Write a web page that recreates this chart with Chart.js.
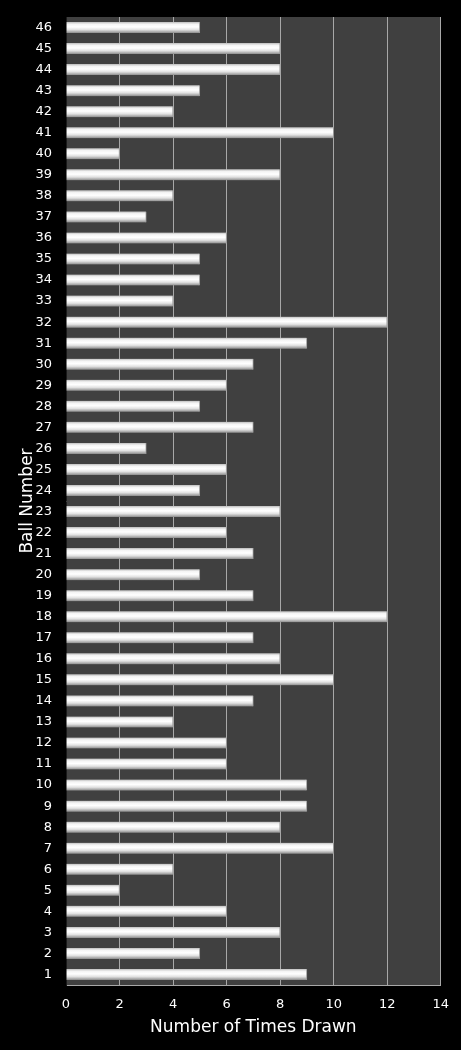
<!DOCTYPE html>
<html lang="en">
<head>
    <meta charset="UTF-8">
    <title>Ball Number Frequency</title>
    <script src="https://cdn.jsdelivr.net/npm/chart.js"></script>
    <style>
        html, body {
            margin: 0;
            padding: 0;
            background-color: #000;
        }
        .wrap {
            width: 461px;
            height: 1050px;
        }
    </style>
</head>
<body>
    <div class="wrap">
        <canvas id="chart" width="461" height="1050"></canvas>
    </div>

    <script>
        // ball numbers, bottom to top
        const balls = ['1','2','3','4','5','6','7','8','9','10','11','12','13','14','15','16','17','18','19','20','21','22','23',
            '24','25','26','27','28','29','30','31','32','33','34','35','36','37','38','39','40','41','42','43','44','45','46'];
        const timesDrawn = [9, 5, 8, 6, 2, 4, 10, 8, 9, 9, 6, 6, 4, 7, 10, 8, 7, 12, 7, 5, 7, 6, 8,
            5, 6, 3, 7, 5, 6, 7, 9, 12, 4, 5, 5, 6, 3, 4, 8, 2, 10, 4, 5, 8, 8, 5];
        const xTicks = [0, 2, 4, 6, 8, 10, 12, 14];

        const BAR_H = 11;

        // dark grey plot area
        const plotBg = {
            id: 'plotBg',
            beforeDraw(chart) {
                const a = chart.chartArea;
                const c = chart.ctx;
                c.save();
                c.fillStyle = '#404040';
                c.fillRect(a.left, a.top, a.right - a.left, a.bottom - a.top);
                c.restore();
            }
        };

        // cylinder-ish shading for each bar
        function barFill(ctx) {
            const chart = ctx.chart;
            const ys = chart.scales && chart.scales.y;
            if (!ys || ctx.type !== 'data') return '#eeeeee';
            const yc = ys.getPixelForValue(ctx.dataIndex);
            if (!isFinite(yc)) return '#eeeeee';
            const g = chart.ctx.createLinearGradient(0, yc - BAR_H / 2, 0, yc + BAR_H / 2);
            g.addColorStop(0, '#bdbdbd');
            g.addColorStop(0.2, '#f4f4f4');
            g.addColorStop(0.45, '#ffffff');
            g.addColorStop(0.7, '#e2e2e2');
            g.addColorStop(1, '#8c8c8c');
            return g;
        }

        new Chart(document.getElementById('chart'), {
            type: 'bar',
            data: {
                labels: balls,
                datasets: [{
                    data: timesDrawn,
                    backgroundColor: barFill,
                    borderColor: '#9a9a9a',
                    borderWidth: { top: 0, bottom: 0, left: 0, right: 1 },
                    borderSkipped: false,
                    barThickness: BAR_H
                }]
            },
            options: {
                indexAxis: 'y',
                responsive: false,
                animation: false,
                layout: {
                    padding: { left: 17, right: 19, top: 17, bottom: 12 }
                },
                plugins: {
                    legend: { display: false },
                    tooltip: { enabled: false }
                },
                scales: {
                    x: {
                        min: 0,
                        max: 14,
                        afterBuildTicks: (axis) => {
                            axis.ticks = xTicks.map(v => ({ value: v }));
                        },
                        afterFit: (axis) => {
                            axis.height = 53;
                        },
                        grid: {
                            color: '#a8a8a8',
                            lineWidth: 1,
                            drawTicks: false
                        },
                        border: { color: '#a8a8a8' },
                        ticks: {
                            color: '#ffffff',
                            padding: 12,
                            font: { family: 'DejaVu Sans', size: 13 }
                        },
                        title: {
                            display: true,
                            text: 'Number of Times Drawn',
                            color: '#ffffff',
                            padding: { top: 4, bottom: 0 },
                            font: { family: 'DejaVu Sans', size: 17 }
                        }
                    },
                    y: {
                        reverse: true,
                        afterFit: (axis) => {
                            axis.width = 49;
                            axis.paddingTop = 0;
                            axis.paddingBottom = 0;
                        },
                        grid: { display: false, drawTicks: false },
                        border: { color: '#1a1a1a' },
                        ticks: {
                            color: '#ffffff',
                            padding: 14,
                            autoSkip: false,
                            font: { family: 'DejaVu Sans', size: 13 }
                        },
                        title: {
                            display: true,
                            text: 'Ball Number',
                            color: '#ffffff',
                            padding: { top: 0, bottom: 2 },
                            font: { family: 'DejaVu Sans', size: 17 }
                        }
                    }
                }
            },
            plugins: [plotBg]
        });
    </script>
</body>
</html>
